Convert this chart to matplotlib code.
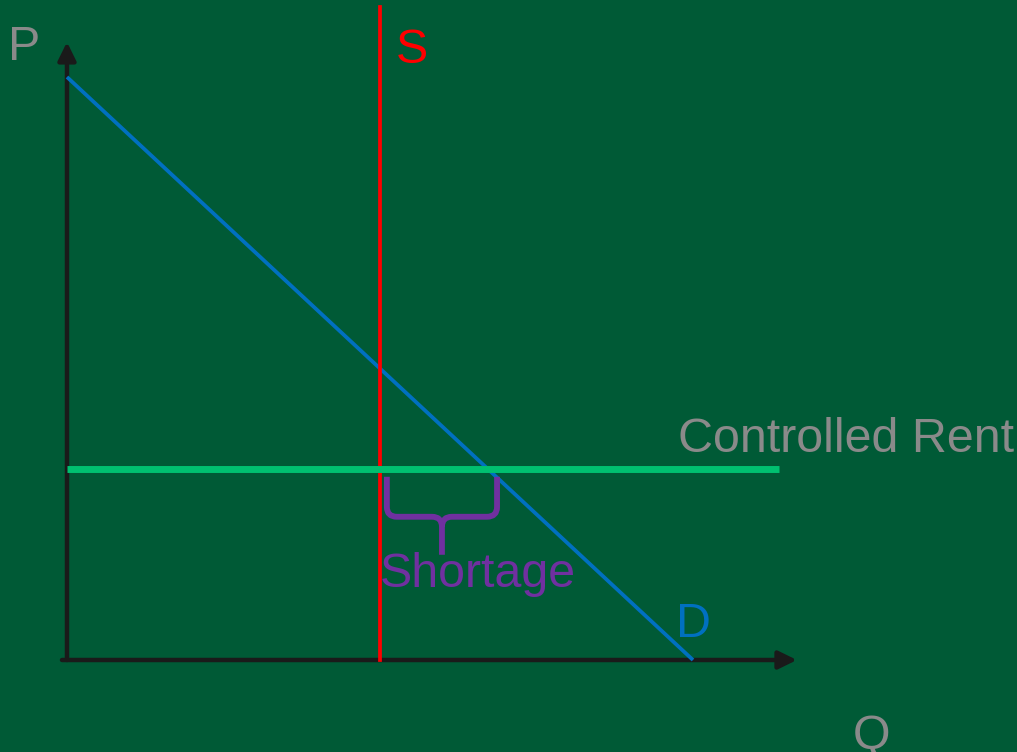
import matplotlib
matplotlib.use("Agg")
import matplotlib.pyplot as plt
from matplotlib.path import Path
from matplotlib.patches import PathPatch

# --- data (economic units) ---
demand_q = [0.0, 10.0]        # demand line quantity endpoints
demand_p = [10.0, 0.0]        # demand line price endpoints
supply_q = 5.0                # vertical supply
supply_p_top = 11.2
rent_p = 3.28                 # controlled rent
rent_q_end = 11.37
axis_q_max = 11.66
axis_p_max = 10.6

BG = "#005A36"
GRAY = "#8A8A8A"
AXIS = "#1A1A1A"
BLUE = "#0070C0"
RED = "#FF0000"
GREEN = "#00C070"
PURPLE = "#7030A0"

fig = plt.figure(figsize=(10.17, 7.52), dpi=100, facecolor=BG)
ax = fig.add_axes([0, 0, 1, 1])
ax.set_facecolor(BG)
ax.set_xlim(-1.070, 15.176)
ax.set_ylim(-1.578, 11.321)
ax.axis("off")

# axes with arrows
arrow_kw = dict(arrowstyle="-|>,head_length=0.55,head_width=0.27", lw=3.2,
                color=AXIS, mutation_scale=20, shrinkA=0, shrinkB=0)
ax.annotate("", xy=(axis_q_max, 0), xytext=(-0.08, 0), arrowprops=arrow_kw, zorder=2)
ax.annotate("", xy=(0, axis_p_max), xytext=(0, 0), arrowprops=arrow_kw, zorder=2)

# demand
ax.plot(demand_q, demand_p, color=BLUE, lw=2.7, solid_capstyle="butt", zorder=3)
# supply
ax.plot([supply_q, supply_q], [0, supply_p_top], color=RED, lw=2.7, zorder=4)
# controlled rent
ax.plot([0, rent_q_end], [rent_p, rent_p], color=GREEN, lw=5.0, solid_capstyle="butt", zorder=5)

# shortage brace
q_d_at_rent = demand_q[0] + (demand_p[0] - rent_p) / (demand_p[0] - demand_p[1]) * (demand_q[1] - demand_q[0])
xl = supply_q + 0.11
xr = q_d_at_rent + 0.15
xm = (xl + xr) / 2
yt = rent_p - 0.137
yb = rent_p - 0.823
ys = rent_p - 1.475
rx = 0.16
ry = 0.17
verts = [(xl, yt), (xl, yb + ry), (xl, yb), (xl + rx, yb), (xm - rx, yb), (xm, yb), (xm, yb - ry), (xm, ys),
         (xr, yt), (xr, yb + ry), (xr, yb), (xr - rx, yb), (xm + rx, yb), (xm, yb), (xm, yb - ry)]
codes = [Path.MOVETO, Path.LINETO, Path.CURVE3, Path.CURVE3, Path.LINETO, Path.CURVE3, Path.CURVE3, Path.LINETO,
         Path.MOVETO, Path.LINETO, Path.CURVE3, Path.CURVE3, Path.LINETO, Path.CURVE3, Path.CURVE3]
ax.add_patch(PathPatch(Path(verts, codes), facecolor="none", edgecolor=PURPLE, lw=4.2,
                       capstyle="butt", joinstyle="round", zorder=6))

font = dict(family=["Liberation Sans", "DejaVu Sans"], fontsize=34.8)
ax.text(-0.94, 10.29, "P", color=GRAY, ha="left", va="baseline", **font)
ax.text(5.26, 10.24, "S", color=RED, ha="left", va="baseline", **font)
ax.text(9.73, 0.395, "D", color=BLUE, ha="left", va="baseline", **font)
ax.text(12.56, -1.527, "Q", color=GRAY, ha="left", va="baseline", **font)
ax.text(9.76, 3.568, "Controlled Rent", color=GRAY, ha="left", va="baseline", **font)
ax.text(4.99, 1.252, "Shortage", color=PURPLE, ha="left", va="baseline", **font)

fig.savefig("out.png", dpi=100, facecolor=BG)
